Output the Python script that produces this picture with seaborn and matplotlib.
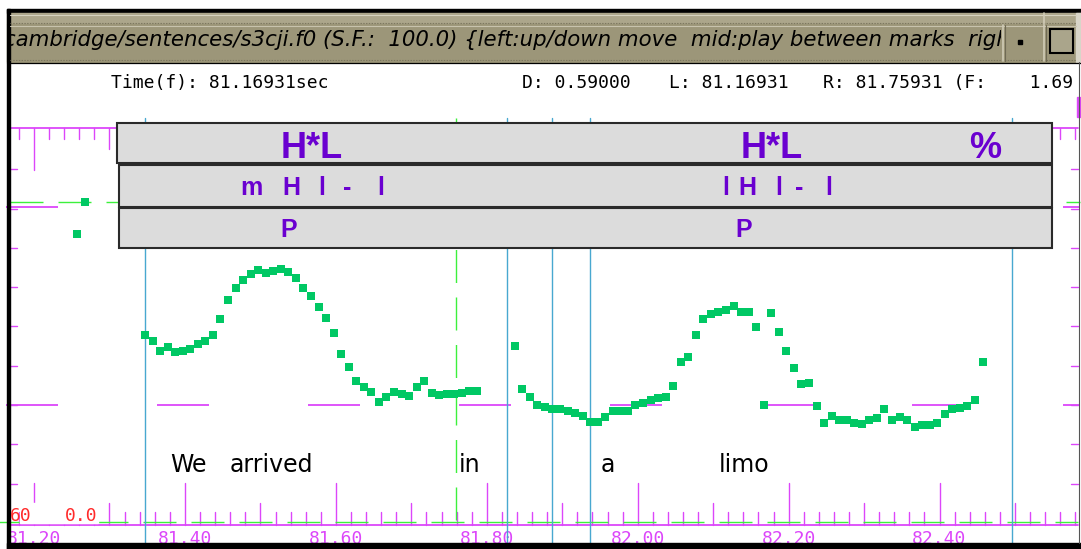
import matplotlib
matplotlib.use("Agg")
from matplotlib import pyplot as plt
from matplotlib.patches import Rectangle
import seaborn as sns
import numpy as np
import pandas as pd

# ---- values ---------------------------------------------------------------
# f0 track, 10 ms frames, first voiced stretch ("We arrived in")
tempo_1 = [81.347, 81.357, 81.367, 81.377, 81.387, 81.397, 81.407, 81.417, 81.427, 81.437,
           81.447, 81.457, 81.467, 81.477, 81.487, 81.497, 81.507, 81.517, 81.527, 81.537,
           81.547, 81.557, 81.567, 81.577, 81.587, 81.597, 81.607, 81.617, 81.627, 81.637,
           81.647, 81.657, 81.667, 81.677, 81.687, 81.697, 81.707, 81.717, 81.727, 81.737,
           81.747, 81.757, 81.767, 81.777, 81.787]
f0_1 = [155.6, 152.6, 147.5, 149.5, 147.0, 147.5, 148.5, 151.0, 152.6, 155.6,
        163.8, 173.4, 179.5, 183.6, 186.7, 188.7, 187.2, 188.2, 189.2, 187.7,
        184.6, 179.5, 175.5, 169.9, 164.3, 156.6, 146.0, 139.3, 132.2, 129.2,
        126.6, 121.5, 124.1, 126.6, 125.6, 124.6, 129.2, 132.2, 126.1, 125.1,
        125.6, 125.6, 126.1, 127.1, 127.1]

# second voiced stretch ("a limo")
tempo_2 = [81.837, 81.847, 81.857, 81.867, 81.877, 81.887, 81.897, 81.907, 81.917, 81.927,
           81.937, 81.947, 81.957, 81.967, 81.977, 81.987, 81.997, 82.007, 82.017, 82.027,
           82.037, 82.047, 82.057, 82.067, 82.077, 82.087, 82.097, 82.107, 82.117, 82.127,
           82.137, 82.147, 82.157, 82.167, 82.177, 82.187, 82.197, 82.207, 82.217, 82.227,
           82.237, 82.247, 82.257, 82.267, 82.277, 82.287, 82.297, 82.307, 82.317, 82.327,
           82.337, 82.347, 82.357, 82.367, 82.377, 82.387, 82.397, 82.407, 82.417, 82.427,
           82.437, 82.447, 82.457]
f0_2 = [150.0, 128.1, 124.1, 120.0, 119.0, 118.0, 118.0, 116.9, 115.9, 114.4,
        111.3, 111.3, 113.9, 116.9, 116.9, 116.9, 120.0, 121.0, 122.5, 123.6,
        124.1, 129.7, 141.9, 144.4, 155.6, 163.8, 166.3, 167.3, 168.3, 170.4,
        167.3, 167.3, 159.7, 120.0, 166.8, 157.2, 147.5, 138.8, 130.7, 131.2,
        119.5, 110.8, 114.4, 112.4, 112.4, 110.8, 110.3, 112.4, 113.4, 118.0,
        112.4, 113.9, 112.4, 108.8, 109.8, 109.8, 110.8, 115.4, 118.0, 118.5,
        119.5, 122.5, 141.9]

# two stray frames at the far left
tempo_soltos = [81.257, 81.267]
f0_soltos = [207.0, 223.3]

palavras = ["We", "arrived", "in", "a", "limo"]
tempo_palavras = [81.380, 81.459, 81.763, 81.951, 82.107]

limites = [81.347, 81.827, 81.886, 81.937, 82.496]
marca_l = 81.16931
marca_r = 81.75931

tons = ["H*L", "H*L", "%"]
tempo_tons = [81.568, 82.178, 82.460]
linha2 = ["m", "H", "l", "-", "l", "l", "H", "l", "-", "l"]
tempo_linha2 = [81.473, 81.529, 81.576, 81.609, 81.655, 82.112, 82.133, 82.182, 82.208, 82.248]
linha3 = ["P", "P"]
tempo_linha3 = [81.526, 82.129]

titulo = ("cambridge/sentences/s3cji.f0 (S.F.:  100.0) "
          "{left:up/down move  mid:play between marks  right:menu}")

# ---- screen geometry -------------------------------------------------------
W, H, DPI = 1081, 549, 100
PX_POR_SEG = 754.6
T0 = 81.1549
PX_POR_HZ = 1.965

MAG = "#dc46fa"
VERDE = "#3cf03c"
PONTO = "#00c864"
AZUL = "#48a8d0"
ROXO = "#6a00d0"
MONO = "DejaVu Sans Mono"


def seg(px):
    return T0 + px / PX_POR_SEG


def px(t):
    return (t - T0) * PX_POR_SEG


def hz(py):
    return 120 + (405 - py) / PX_POR_HZ


sns.set_style("white")
plt.rcParams["lines.scale_dashes"] = False
plt.rcParams["font.family"] = ["DejaVu Sans"]

fig = plt.figure(figsize=(W / DPI, H / DPI), dpi=DPI)
ax = fig.add_axes([0, 0, 1, 1])
ax.set_xlim(seg(0), seg(W))
ax.set_ylim(hz(H), hz(0))
ax.axis("off")

# time rulers, bottom (ticks up) and top (ticks down)
marcas = np.round(np.arange(81.16, 82.59, 0.02), 2)
for tk in marcas:
    if not 10 <= px(tk) <= 1078:
        continue
    k = int(round(tk * 100))
    if k % 20 == 0:
        hb, ht = 42, 42
    elif k % 10 == 0:
        hb, ht = 22, 21
    else:
        hb, ht = 13, 11
    ax.plot([tk, tk], [hz(525), hz(525 - hb)], color=MAG, lw=1.0, zorder=2)
    ax.plot([tk, tk], [hz(128), hz(128 + ht)], color=MAG, lw=1.0, zorder=2)
    if k % 20 == 0:
        ax.text(tk, hz(544), f"{tk:.2f}", ha="center", va="baseline",
                color=MAG, family=MONO, size=13, zorder=2)
ax.plot([seg(10), seg(1078)], [hz(525), hz(525)], color=MAG, lw=1.3, zorder=2)
ax.plot([seg(10), seg(1078)], [hz(128), hz(128)], color=MAG, lw=1.3, zorder=2)

# f0 ticks on both sides
for v in range(80, 260, 20):
    ax.plot([seg(10), seg(17)], [v, v], color=MAG, lw=1.0, zorder=2)
    ax.plot([seg(1071), seg(1078)], [v, v], color=MAG, lw=1.0, zorder=2)

# dashed reference lines
tracejado_mag = (0, (52 * 0.72, 99 * 0.72))
tracejado_verde = (0, (33 * 0.72, 15 * 0.72))
for py in [405, 207]:
    ax.plot([seg(6), seg(1080)], [hz(py), hz(py)], color=MAG, lw=1.3,
            linestyle=tracejado_mag, zorder=2)
ax.plot([seg(10), seg(1080)], [hz(202), hz(202)], color=VERDE, lw=1.0,
        linestyle=tracejado_verde, zorder=2)
ax.plot([seg(-13), seg(1078)], [hz(522), hz(522)], color=VERDE, lw=1.0,
        linestyle=tracejado_verde, zorder=2)
ax.plot([marca_r, marca_r], [hz(520), hz(118)], color=VERDE, lw=1.0,
        linestyle=(0, (33 * 0.72, 14.5 * 0.72)), zorder=2)

# segment boundaries
for t in limites:
    ax.plot([t, t], [hz(543), hz(118)], color=AZUL, lw=1.0, zorder=2)

# f0 points
df = pd.DataFrame({
    "tempo": tempo_soltos + tempo_1 + tempo_2,
    "f0": f0_soltos + f0_1 + f0_2,
})
sns.scatterplot(data=df, x="tempo", y="f0", marker="s", s=29, color=PONTO,
                linewidth=0, legend=False, ax=ax, zorder=5)
ax.set_xlim(seg(0), seg(W))
ax.set_ylim(hz(H), hz(0))
ax.axis("off")

for w, t in zip(palavras, tempo_palavras):
    ax.text(t, hz(472), w, ha="left", va="baseline", size=17, color="black")

# ---- window furniture, in pixels ---------------------------------------------
ov = fig.add_axes([0, 0, 1, 1], zorder=3)
ov.set_xlim(0, W)
ov.set_ylim(H, 0)
ov.axis("off")

ov.add_patch(Rectangle((7, 9), W - 7, 4, color="black"))
ov.add_patch(Rectangle((7, 13), W - 7, 11, color="#aca68b"))
ov.add_patch(Rectangle((7, 24), W - 7, 38, color="#9c9679"))
ov.plot([10, 1076], [14.5, 14.5], color="#d6d2c0", lw=0.8)
ov.plot([10, 1076], [22.5, 22.5], color="#7c775f", lw=0.8, ls=(0, (1, 1)))
ov.plot([10, 1076], [25.5, 25.5], color="#c8c3ad", lw=0.8)
ov.plot([10, 1076], [59.5, 59.5], color="#7c775f", lw=0.8, ls=(0, (1, 1)))
for xs in [1003, 1044]:
    ov.plot([xs, xs], [25, 61], color="#d0cbb6", lw=1.2)
    ov.plot([xs + 1.5, xs + 1.5], [25, 61], color="#6f6a54", lw=0.8)
ov.plot([1044, 1044], [13, 24], color="#d0cbb6", lw=1.2)
ov.add_patch(Rectangle((1018, 40), 4, 4, color="black"))
ov.add_patch(Rectangle((1050, 29), 23, 24, fc="#aaa58b", ec="black", lw=1.5))
ov.add_patch(Rectangle((1076, 13), 5, 49, color="#d8d5c8"))
ov.plot([7, W], [62.5, 62.5], color="black", lw=0.9)

tb = fig.add_axes([8 / W, 1 - 62 / H, (1001 - 8) / W, 38 / H], zorder=4)
tb.set_xlim(8, 1001)
tb.set_ylim(62, 24)
tb.axis("off")
tb.text(4, 46, titulo, ha="left", va="baseline", style="italic", size=15.3,
        color="black", clip_on=True)

info = [(111, "Time(f): 81.16931sec"), (522, "D: 0.59000"),
        (669, f"L: {marca_l:.5f}"), (823, f"R: {marca_r:.5f} (F:    1.69")]
for x, s in info:
    ov.text(x, 88, s, ha="left", va="baseline", family=MONO, size=13,
            color="black", clip_on=True)

# label tiers
for x0, y0, y1 in [(117, 123, 163), (119, 165, 207), (119, 208, 248)]:
    ov.add_patch(Rectangle((x0, y0), 1052 - x0, y1 - y0, fc="#dcdcdc",
                           ec="#2a2a2a", lw=1.5))
for s, t in zip(tons, tempo_tons):
    ov.text(px(t), 158, s, ha="center", va="baseline", color=ROXO,
            family="Liberation Sans", weight="bold", size=26)
for s, t in zip(linha2, tempo_linha2):
    ov.text(px(t), 195, s, ha="left", va="baseline", color=ROXO,
            family="Liberation Sans", weight="bold", size=18)
for s, t in zip(linha3, tempo_linha3):
    ov.text(px(t), 237, s, ha="left", va="baseline", color=ROXO,
            family="Liberation Sans", weight="bold", size=18)

# scale labels bottom left
ov.add_patch(Rectangle((20, 503), 78, 20, color="white"))
ov.text(10, 521, "60", ha="left", va="baseline", family=MONO, size=13, color="#ff2a2a")
ov.text(65, 521, "0.0", ha="left", va="baseline", family=MONO, size=13, color="#ff2a2a")

# frame
ov.add_patch(Rectangle((7, 9), 3, H - 9, color="black"))
ov.add_patch(Rectangle((7, 543), W - 7, 6, color="black"))
ov.plot([1078.5, 1078.5], [62, 543], color="#555555", lw=0.8)
ov.add_patch(Rectangle((1077, 97), 3, 20, color=MAG))

fig.savefig("out.png", dpi=DPI)
plt.close(fig)
